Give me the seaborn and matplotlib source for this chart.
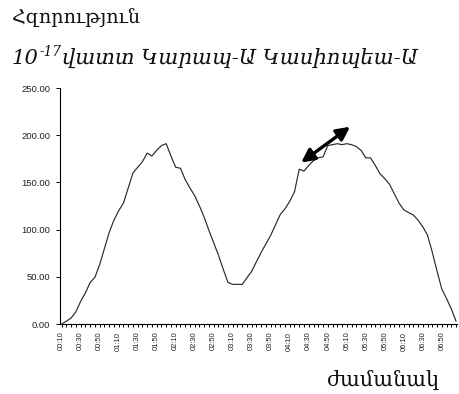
import matplotlib
matplotlib.use("Agg")
import matplotlib.pyplot as plt
import seaborn as sns
import pandas as pd

# Five-minute sampling from 00:10 to 07:05
times = [f"{m // 60:02d}:{m % 60:02d}" for m in range(10, 430, 5)]

power = [
    0, 3, 6.5, 13, 24, 33, 44, 49.5, 63, 80,
    97, 110, 120, 128, 144, 160, 166, 172, 181, 178,
    184, 189, 191, 178, 166, 165, 153, 144, 136, 125,
    113, 99, 86, 73, 58, 44, 42, 42, 42, 49,
    56, 66, 76, 85, 94, 105, 116, 122, 130, 140,
    164, 162, 168, 173, 176, 177, 189, 190, 191, 190,
    191, 190, 188, 184, 176, 176, 168, 159, 154, 148,
    138, 128, 121, 118, 115.5, 110, 103, 94, 76, 56,
    37, 27, 16, 3,
]

y_ticks = [0, 50, 100, 150, 200, 250]

title_line1 = "Հզորություն"
unit_base = "10"
unit_exp = "-17"
title_line2 = "վատտ Կարապ-Ա Կասիոպեա-Ա"
x_title = "ժամանակ"

df = pd.DataFrame({"pos": range(len(times)), "time": times, "power": power})

sns.set_theme(style="white")
plt.rcParams["font.family"] = ["DejaVu Serif", "DejaVu Sans"]

W, H = 459, 394
fig = plt.figure(figsize=(W / 100, H / 100), dpi=100)
ax = fig.add_axes([60 / W, (H - 324) / H, 397 / W, 236 / H])

sns.lineplot(data=df, x="pos", y="power", ax=ax, color="#2a2a2a", linewidth=0.85)

ax.set_xlim(-0.35, len(times) - 0.8)
ax.set_ylim(0, 250)

ax.set_yticks(y_ticks)
ax.set_yticklabels([f"{v:.2f}" for v in y_ticks], fontsize=6.8,
                   family="Liberation Sans", color="#222222")

label_pos = list(range(0, len(times), 4))
ax.set_xticks(label_pos)
ax.set_xticklabels([times[i] for i in label_pos], rotation=90, fontsize=5.4,
                   family="Liberation Sans", color="#222222")
ax.set_xticks(range(len(times)), minor=True)

ax.tick_params(axis="y", which="major", direction="out", length=3, width=0.7,
               color="black", pad=4, left=True)
ax.tick_params(axis="x", which="both", direction="out", length=2.5, width=0.7,
               color="black", pad=3, bottom=True)

for side in ("top", "right"):
    ax.spines[side].set_visible(False)
for side in ("left", "bottom"):
    ax.spines[side].set_color("black")
    ax.spines[side].set_linewidth(0.8)

ax.set_xlabel("")
ax.set_ylabel("")
ax.grid(False)

# Double-headed arrow marking the second maximum
ax.annotate("", xy=(50.4, 171), xytext=(60.7, 209),
            arrowprops=dict(arrowstyle="<|-|>", color="black", lw=2.4,
                            mutation_scale=20, shrinkA=0, shrinkB=0))

fig.text(12 / W, 1 - 18 / H, title_line1, fontsize=13.8, va="center",
         ha="left", color="#111111")

# Second heading line: "10" with a raised exponent, then the unit and sources
renderer = fig.canvas.get_renderer()
base_y = 1 - 64 / H
t_base = fig.text(12 / W, base_y, unit_base, fontsize=15.2, style="italic",
                  va="baseline", ha="left", color="#111111")
x_next = t_base.get_window_extent(renderer).x1 / W
t_exp = fig.text(x_next, base_y + 8 / H, unit_exp, fontsize=9.8, style="italic",
                 va="baseline", ha="left", color="#111111")
x_next = t_exp.get_window_extent(renderer).x1 / W + 1 / W
fig.text(x_next, base_y, title_line2, fontsize=15.2, style="italic",
         va="baseline", ha="left", color="#111111")

fig.text(384 / W, 1 - 380 / H, x_title, fontsize=15, va="center",
         ha="center", color="#111111")

fig.savefig("out.png", dpi=100)
